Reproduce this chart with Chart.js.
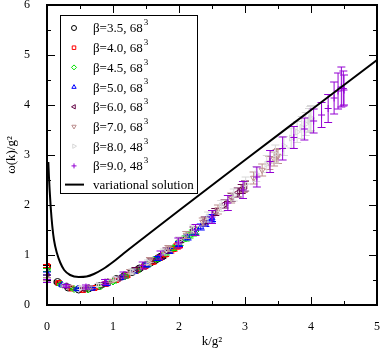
<!DOCTYPE html>
<html>
<head>
<meta charset="utf-8">
<script src="https://cdn.jsdelivr.net/npm/chart.js@4.4.1/dist/chart.umd.min.js"></script>
<style>
  html, body { margin: 0; padding: 0; background: #fff; }
</style>
</head>
<body>
<canvas id="chart" width="382" height="349"></canvas>
<script>
// lattice data: k/g^2, omega/g^2 and errors per beta
const k35 = [0, 0.16, 0.32, 0.48, 0.63, 0.78, 0.92, 1.05, 1.18, 1.29, 1.40, 1.49, 1.57, 1.63, 1.68, 1.72, 1.74, 1.75];
const w35 = [0.76, 0.46, 0.35, 0.31, 0.33, 0.38, 0.45, 0.52, 0.59, 0.66, 0.73, 0.79, 0.85, 0.89, 0.93, 0.96, 0.97, 0.98];
const e35 = [0.03, 0.02, 0.02, 0.02, 0.02, 0.02, 0.02, 0.02, 0.03, 0.03, 0.03, 0.03, 0.03, 0.03, 0.04, 0.04, 0.04, 0.04];

const k40 = [0, 0.18, 0.37, 0.55, 0.72, 0.89, 1.05, 1.21, 1.35, 1.48, 1.60, 1.70, 1.79, 1.87, 1.92, 1.97, 1.99, 2.0];
const w40 = [0.78, 0.44, 0.33, 0.30, 0.34, 0.42, 0.50, 0.59, 0.68, 0.77, 0.86, 0.94, 1.01, 1.08, 1.12, 1.17, 1.19, 1.20];
const e40 = [0.03, 0.02, 0.02, 0.02, 0.02, 0.02, 0.03, 0.03, 0.03, 0.03, 0.04, 0.04, 0.04, 0.04, 0.04, 0.05, 0.05, 0.05];

const k45 = [0, 0.21, 0.41, 0.62, 0.81, 1.00, 1.18, 1.36, 1.52, 1.66, 1.80, 1.91, 2.01, 2.10, 2.16, 2.21, 2.24, 2.25];
const w45 = [0.70, 0.41, 0.32, 0.31, 0.37, 0.47, 0.57, 0.69, 0.81, 0.92, 1.04, 1.14, 1.24, 1.33, 1.39, 1.44, 1.47, 1.48];
const e45 = [0.03, 0.02, 0.02, 0.02, 0.02, 0.03, 0.03, 0.03, 0.04, 0.04, 0.04, 0.05, 0.05, 0.05, 0.05, 0.06, 0.06, 0.06];

const k50 = [0, 0.23, 0.46, 0.68, 0.90, 1.11, 1.32, 1.51, 1.68, 1.85, 2.00, 2.13, 2.24, 2.33, 2.40, 2.46, 2.49, 2.5];
const w50 = [0.63, 0.40, 0.32, 0.33, 0.42, 0.54, 0.67, 0.80, 0.93, 1.08, 1.22, 1.35, 1.46, 1.56, 1.63, 1.70, 1.73, 1.74];
const e50 = [0.03, 0.02, 0.02, 0.02, 0.03, 0.03, 0.03, 0.04, 0.04, 0.05, 0.05, 0.05, 0.06, 0.06, 0.06, 0.07, 0.07, 0.07];

const k60 = [0, 0.28, 0.55, 0.82, 1.08, 1.34, 1.58, 1.81, 2.02, 2.22, 2.39, 2.55, 2.69, 2.80, 2.89, 2.95, 2.99, 3.0];
const w60 = [0.57, 0.38, 0.32, 0.40, 0.53, 0.71, 0.89, 1.09, 1.30, 1.50, 1.69, 1.86, 2.02, 2.15, 2.25, 2.32, 2.37, 2.38];
const e60 = [0.03, 0.02, 0.02, 0.03, 0.03, 0.04, 0.04, 0.05, 0.05, 0.06, 0.07, 0.07, 0.08, 0.08, 0.09, 0.09, 0.1, 0.1];

const k70 = [0, 0.32, 0.64, 0.96, 1.26, 1.56, 1.84, 2.11, 2.36, 2.59, 2.79, 2.98, 3.13, 3.26, 3.37, 3.44, 3.48, 3.5];
const w70 = [0.52, 0.37, 0.35, 0.48, 0.67, 0.90, 1.13, 1.40, 1.66, 1.91, 2.14, 2.36, 2.54, 2.70, 2.84, 2.92, 2.97, 2.98];
const e70 = [0.03, 0.02, 0.03, 0.03, 0.04, 0.05, 0.06, 0.07, 0.08, 0.09, 0.1, 0.11, 0.12, 0.12, 0.13, 0.14, 0.14, 0.15];

const k80 = [0, 0.26, 0.52, 0.78, 1.04, 1.29, 1.53, 1.77, 2.0, 2.22, 2.44, 2.64, 2.83, 3.01, 3.17, 3.33, 3.46, 3.59, 3.70, 3.79, 3.86, 3.92, 3.97, 3.99, 4.0];
const w80 = [0.50, 0.38, 0.34, 0.40, 0.52, 0.67, 0.85, 1.06, 1.29, 1.52, 1.76, 1.98, 2.2, 2.42, 2.62, 2.82, 3.02, 3.18, 3.34, 3.46, 3.55, 3.62, 3.69, 3.72, 3.74];
const e80 = [0.03, 0.02, 0.03, 0.03, 0.04, 0.05, 0.05, 0.06, 0.07, 0.08, 0.1, 0.11, 0.12, 0.14, 0.15, 0.17, 0.18, 0.19, 0.2, 0.21, 0.22, 0.23, 0.24, 0.25, 0.25];

const k90 = [0, 0.29, 0.59, 0.88, 1.16, 1.45, 1.72, 1.99, 2.25, 2.50, 2.74, 2.97, 3.18, 3.38, 3.57, 3.74, 3.90, 4.04, 4.16, 4.26, 4.35, 4.41, 4.46, 4.49, 4.5];
const w90 = [0.48, 0.38, 0.36, 0.46, 0.60, 0.79, 1.00, 1.24, 1.50, 1.76, 2.04, 2.30, 2.56, 2.87, 3.13, 3.35, 3.52, 3.68, 3.80, 3.93, 4.14, 4.28, 4.36, 4.33, 4.30];
const e90 = [0.03, 0.03, 0.04, 0.05, 0.06, 0.07, 0.08, 0.1, 0.11, 0.13, 0.15, 0.17, 0.2, 0.22, 0.23, 0.22, 0.22, 0.24, 0.25, 0.28, 0.32, 0.36, 0.4, 0.35, 0.3];

// variational solution
const kVar = [0.02, 0.03, 0.04, 0.056, 0.08, 0.106, 0.15, 0.2, 0.26, 0.35, 0.48, 0.6, 0.71, 0.85, 1.0, 1.16, 1.5, 2.0, 3.0, 4.0, 5.0];
const wVar = [2.86, 2.55, 2.3, 1.96, 1.58, 1.3, 1.04, 0.85, 0.70, 0.6, 0.56, 0.57, 0.62, 0.72, 0.86, 1.03, 1.38, 1.89, 2.9, 3.9, 4.9];

const legendText = ['β=3.5, 68', 'β=4.0, 68', 'β=4.5, 68', 'β=5.0, 68', 'β=6.0, 68', 'β=7.0, 68', 'β=8.0, 48', 'β=9.0, 48'];
const legendSup = ['3', '3', '3', '3', '3', '3', '3', '3'];
const varLabel = 'variational solution';

const xTicks = [0, 1, 2, 3, 4, 5];
const yTicks = [0, 1, 2, 3, 4, 5, 6];

const series = [
  { k: k35, w: w35, e: e35, color: '#000000', style: 'circle', rot: 0 },
  { k: k40, w: w40, e: e40, color: '#ff0000', style: 'rect', rot: 0 },
  { k: k45, w: w45, e: e45, color: '#00e000', style: 'rectRot', rot: 0 },
  { k: k50, w: w50, e: e50, color: '#0000ff', style: 'triangle', rot: 0 },
  { k: k60, w: w60, e: e60, color: '#670748', style: 'triangle', rot: -90 },
  { k: k70, w: w70, e: e70, color: '#bc8f8f', style: 'triangle', rot: 180 },
  { k: k80, w: w80, e: e80, color: '#d8d8d8', style: 'triangle', rot: 90 },
  { k: k90, w: w90, e: e90, color: '#9400d3', style: 'cross', rot: 0 }
];

const SERIF = "'Liberation Serif', 'DejaVu Serif', serif";

const datasets = [{
  label: varLabel,
  data: kVar.map((x, i) => ({ x: x, y: wVar[i] })),
  showLine: true,
  borderColor: '#000',
  borderWidth: 2,
  pointRadius: 0,
  cubicInterpolationMode: 'monotone'
}];
// later series drawn on top -> put them first
for (let i = series.length - 1; i >= 0; i--) {
  const s = series[i];
  datasets.push({
    label: legendText[i],
    data: s.k.map((x, j) => ({ x: x, y: s.w[j] })),
    errs: s.e,
    showLine: false,
    borderColor: s.color,
    backgroundColor: 'rgba(0,0,0,0)',
    pointBorderColor: s.color,
    pointBackgroundColor: 'rgba(0,0,0,0)',
    pointBorderWidth: 1,
    pointStyle: s.style,
    pointRotation: s.rot,
    pointRadius: 3.5
  });
}

// error bars drawn right before each dataset
const errorBars = {
  id: 'errorBars',
  beforeDatasetDraw(chart, args) {
    const ds = chart.data.datasets[args.index];
    if (!ds.errs) return;
    const ctx = chart.ctx;
    const xs = chart.scales.x, ys = chart.scales.y;
    ctx.save();
    ctx.strokeStyle = ds.borderColor;
    ctx.lineWidth = 1;
    ds.data.forEach((p, i) => {
      const px = xs.getPixelForValue(p.x);
      const y1 = ys.getPixelForValue(p.y + ds.errs[i]);
      const y2 = ys.getPixelForValue(p.y - ds.errs[i]);
      ctx.beginPath();
      ctx.moveTo(px, y1); ctx.lineTo(px, y2);
      ctx.moveTo(px - 4, y1); ctx.lineTo(px + 4, y1);
      ctx.moveTo(px - 4, y2); ctx.lineTo(px + 4, y2);
      ctx.stroke();
    });
    ctx.restore();
  }
};

// frame with inward ticks on all four sides
const frame = {
  id: 'frame',
  afterDatasetsDraw(chart) {
    const ctx = chart.ctx;
    const a = chart.chartArea;
    const xs = chart.scales.x, ys = chart.scales.y;
    ctx.save();
    ctx.strokeStyle = '#000';
    ctx.lineWidth = 2;
    ctx.strokeRect(a.left, a.top, a.right - a.left, a.bottom - a.top);
    ctx.lineWidth = 1;
    ctx.beginPath();
    for (let v = 0; v <= 5.001; v += 0.5) {
      const px = Math.round(xs.getPixelForValue(v)) + 0.5;
      const len = (Math.abs(v - Math.round(v)) < 0.01) ? 8 : 4;
      ctx.moveTo(px, a.bottom); ctx.lineTo(px, a.bottom - len);
      ctx.moveTo(px, a.top); ctx.lineTo(px, a.top + len);
    }
    for (let v = 0; v <= 6.001; v += 0.5) {
      const py = Math.round(ys.getPixelForValue(v)) + 0.5;
      const len = (Math.abs(v - Math.round(v)) < 0.01) ? 8 : 4;
      ctx.moveTo(a.left, py); ctx.lineTo(a.left + len, py);
      ctx.moveTo(a.right, py); ctx.lineTo(a.right - len, py);
    }
    ctx.stroke();
    ctx.restore();
  }
};

// boxed legend inside the plot
const boxLegend = {
  id: 'boxLegend',
  afterDraw(chart) {
    const ctx = chart.ctx;
    const bx = 60, by = 15, bw = 137, bh = 178;
    ctx.save();
    ctx.fillStyle = '#fff';
    ctx.fillRect(bx, by, bw, bh);
    ctx.strokeStyle = '#000';
    ctx.lineWidth = 1;
    ctx.strokeRect(bx + 0.5, by + 0.5, bw, bh);
    series.forEach((s, i) => {
      const cy = 28 + i * 19.7;
      ctx.strokeStyle = s.color;
      ctx.fillStyle = 'rgba(0,0,0,0)';
      ctx.lineWidth = 1;
      Chart.helpers.drawPoint(ctx, {
        pointStyle: s.style, rotation: s.rot, radius: 2.5, borderWidth: 1
      }, 74, cy);
      ctx.fillStyle = '#000';
      ctx.textBaseline = 'middle';
      ctx.font = '13px ' + SERIF;
      ctx.fillText(legendText[i], 93, cy + 1);
      const w = ctx.measureText(legendText[i]).width;
      ctx.font = '9px ' + SERIF;
      ctx.fillText(legendSup[i], 93 + w + 1, cy - 5);
    });
    const ly = 28 + 8 * 19.7 - 1;
    ctx.strokeStyle = '#000';
    ctx.lineWidth = 2;
    ctx.beginPath();
    ctx.moveTo(65, ly); ctx.lineTo(84, ly);
    ctx.stroke();
    ctx.fillStyle = '#000';
    ctx.font = '13px ' + SERIF;
    ctx.textBaseline = 'middle';
    ctx.fillText(varLabel, 93, ly + 1);
    ctx.restore();
  }
};

new Chart(document.getElementById('chart').getContext('2d'), {
  type: 'scatter',
  data: { datasets: datasets },
  plugins: [errorBars, frame, boxLegend],
  options: {
    responsive: false,
    devicePixelRatio: 1,
    animation: false,
    layout: { padding: { top: 5, right: 4, left: 0, bottom: 0 } },
    plugins: { legend: { display: false }, tooltip: { enabled: false } },
    scales: {
      x: {
        type: 'linear', min: 0, max: 5,
        afterBuildTicks: (scale) => { scale.ticks = xTicks.map(v => ({ value: v })); },
        afterFit: (scale) => { scale.height = 44; scale.paddingLeft = 0; scale.paddingRight = 0; },
        grid: { display: false },
        border: { display: false },
        ticks: { color: '#000', font: { family: SERIF, size: 12 }, padding: 7, maxRotation: 0 },
        title: { display: true, text: 'k/g²', color: '#000', font: { family: SERIF, size: 13 }, padding: { top: 0, bottom: 0 } }
      },
      y: {
        type: 'linear', min: 0, max: 6,
        afterBuildTicks: (scale) => { scale.ticks = yTicks.map(v => ({ value: v })); },
        afterFit: (scale) => { scale.width = 47; scale.paddingTop = 0; scale.paddingBottom = 0; },
        grid: { display: false },
        border: { display: false },
        ticks: { color: '#000', font: { family: SERIF, size: 12 }, padding: 9 },
        title: { display: true, text: 'ω(k)/g²', color: '#000', font: { family: SERIF, size: 13 }, padding: { top: 4, bottom: 0 } }
      }
    }
  }
});
</script>
</body>
</html>
